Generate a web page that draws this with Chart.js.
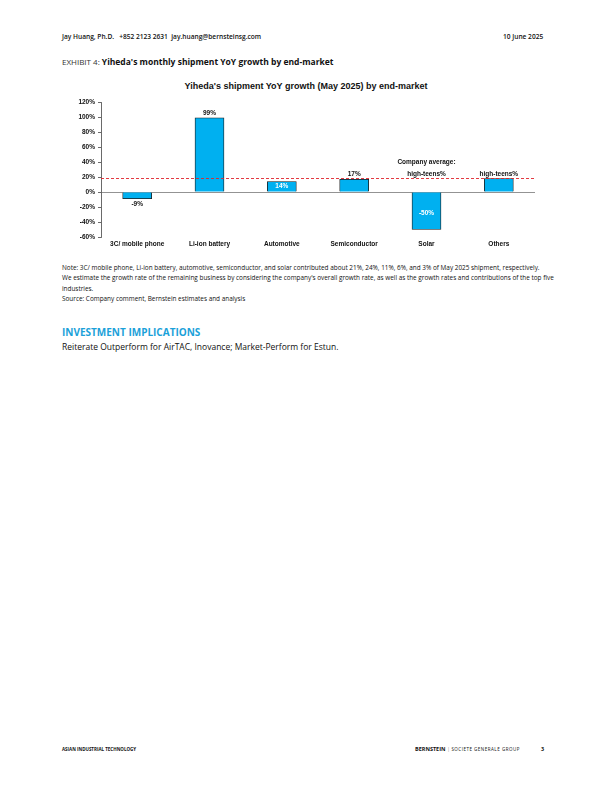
<!DOCTYPE html>
<html>
<head>
<meta charset="utf-8">
<script src="https://cdn.jsdelivr.net/npm/chart.js@4"></script>
<style>
    body { margin: 0; background: #fff; }
    .page { position: relative; width: 612px; height: 792px; font-family: "Open Sans", sans-serif; color: #111; }
    .t { position: absolute; white-space: nowrap; }
    #chartBox { position: absolute; left: 60px; top: 78px; width: 480px; height: 179px; }
</style>
</head>
<body>
<div class="page">
    <div class="t" style="left:62px; top:32px; font-size:6.6px; font-weight:600;">Jay Huang, Ph.D.&nbsp;&nbsp;&nbsp;+852 2123 2631&nbsp;&nbsp;jay.huang@bernsteinsg.com</div>
    <div class="t" style="left:503px; top:32px; font-size:6.6px; font-weight:600;">10 June 2025</div>

    <div class="t" style="left:62px; top:56px; font-size:8px; color:#333;">EXHIBIT 4: <b style="font-size:8.5px; color:#111;">Yiheda's monthly shipment YoY growth by end-market</b></div>

    <div class="t" style="width:492px; text-align:center; left:60px; top:81px; font-family:'Liberation Sans', Arial, sans-serif; font-weight:bold; font-size:9px;">Yiheda's shipment YoY growth (May 2025) by end-market</div>

    <div id="chartBox"><canvas id="growthChart"></canvas></div>

    <div class="t" style="left:62px; top:263px; font-size:6.4px; line-height:10.3px; white-space:normal; width:492px; font-weight:500;">
        Note: 3C/ mobile phone, Li-ion battery, automotive, semiconductor, and solar contributed about 21%, 24%, 11%, 6%, and 3% of May 2025 shipment, respectively.<br>
        We estimate the growth rate of the remaining business by considering the company's overall growth rate, as well as the growth rates and contributions of the top five industries.<br>
        Source: Company comment, Bernstein estimates and analysis
    </div>

    <div class="t" style="left:62px; top:325px; font-size:10px; font-weight:bold; color:#1ba1d9;">INVESTMENT IMPLICATIONS</div>
    <div class="t" style="left:62px; top:341px; font-size:8.5px;">Reiterate Outperform for AirTAC, Inovance; Market-Perform for Estun.</div>

    <div class="t" style="left:62px; top:746px; font-size:4.5px; font-weight:bold;">ASIAN INDUSTRIAL TECHNOLOGY</div>
    <div class="t" style="left:415px; top:745px; font-size:5.5px;"><b>BERNSTEIN</b> <span style="color:#999;">|</span> <span style="font-size:4.5px; letter-spacing:0.5px;">SOCIETE GENERALE GROUP</span></div>
    <div class="t" style="left:541px; top:745px; font-size:5.5px; font-weight:bold;">3</div>
</div>

<script>
// Chart data
const categories = ['3C/ mobile phone', 'Li-ion battery', 'Automotive', 'Semiconductor', 'Solar', 'Others'];
const growth = [-9, 99, 14, 17, -50, 18];
const valueLabels = ['-9%', '99%', '14%', '17%', '-50%', 'high-teens%'];
// where each label goes: above / below the bar end, or inside it
const labelPlace = ['below', 'above', 'inside', 'above', 'inside', 'above'];
const companyAverage = 18;
const averageLabel = ['Company average:', 'high-teens%'];
const yTicks = [-60, -40, -20, 0, 20, 40, 60, 80, 100, 120];

const barBlue = '#00b0f0';
const axisFont = { family: "'Liberation Sans', Arial, sans-serif", size: 6.5, weight: 'bold' };

// Value labels and the company-average note
const labelPlugin = {
    id: 'valueLabels',
    afterDatasetsDraw(chart) {
        const ctx = chart.ctx;
        const meta = chart.getDatasetMeta(0);
        const y = chart.scales.y;
        ctx.save();
        ctx.font = "bold 6.5px 'Liberation Sans', Arial, sans-serif";
        ctx.textAlign = 'center';
        meta.data.forEach((bar, i) => {
            const v = growth[i];
            let ty;
            ctx.fillStyle = '#111';
            if (labelPlace[i] === 'inside') {
                ctx.fillStyle = '#fff';
                ctx.textBaseline = 'middle';
                ty = v < 0 ? (y.getPixelForValue(0) + bar.y) / 2 + 2 : bar.y + 5;
            } else if (labelPlace[i] === 'above') {
                ctx.textBaseline = 'bottom';
                ty = bar.y - 1.5;
            } else {
                ctx.textBaseline = 'top';
                ty = bar.y + 2.5;
            }
            ctx.fillText(valueLabels[i], bar.x, ty);
        });
        const solar = meta.data[4];
        const avgY = y.getPixelForValue(companyAverage);
        ctx.fillStyle = '#111';
        ctx.textBaseline = 'bottom';
        ctx.fillText(averageLabel[0], solar.x, avgY - 13);
        ctx.fillText(averageLabel[1], solar.x, avgY - 1.5);
        ctx.restore();
    }
};

new Chart(document.getElementById('growthChart'), {
    type: 'bar',
    data: {
        labels: categories,
        datasets: [
            {
                type: 'bar',
                data: growth,
                backgroundColor: barBlue,
                borderColor: '#1a1a1a',
                borderWidth: 0.8,
                barThickness: 29,
                grouped: false,
                order: 2
            },
            {
                type: 'line',
                xAxisID: 'x2',
                data: [{ x: 0, y: companyAverage }, { x: 1, y: companyAverage }],
                borderColor: '#e0242b',
                borderWidth: 0.9,
                borderDash: [3, 2],
                pointRadius: 0,
                fill: false,
                order: 1
            }
        ]
    },
    options: {
        responsive: true,
        maintainAspectRatio: false,
        animation: false,
        layout: { padding: { top: 24, right: 5, left: 0, bottom: 0 } },
        plugins: {
            legend: { display: false },
            title: { display: false },
            tooltip: { enabled: false }
        },
        scales: {
            x: {
                offset: true,
                border: { display: false },
                grid: { display: false, drawTicks: false, tickLength: 0 },
                ticks: { color: '#111', font: axisFont, padding: 3, maxRotation: 0 },
                afterFit: (s) => { s.height = 20; }
            },
            x2: {
                type: 'linear',
                display: false,
                offset: false,
                grid: { offset: false },
                min: 0,
                max: 1
            },
            y: {
                min: -60,
                max: 120,
                border: { display: true, color: '#444', width: 0.8 },
                grid: {
                    drawOnChartArea: true,
                    drawTicks: true,
                    tickLength: 3,
                    tickColor: '#444',
                    lineWidth: 0.8,
                    color: (c) => (c.tick && c.tick.value === 0 ? '#777' : 'transparent')
                },
                afterBuildTicks: (s) => { s.ticks = yTicks.map(v => ({ value: v })); },
                ticks: {
                    color: '#111',
                    font: axisFont,
                    padding: 3,
                    callback: (v) => v + '%'
                },
                afterFit: (s) => { s.width = 41; }
            }
        }
    },
    plugins: [labelPlugin]
});
</script>
</body>
</html>
